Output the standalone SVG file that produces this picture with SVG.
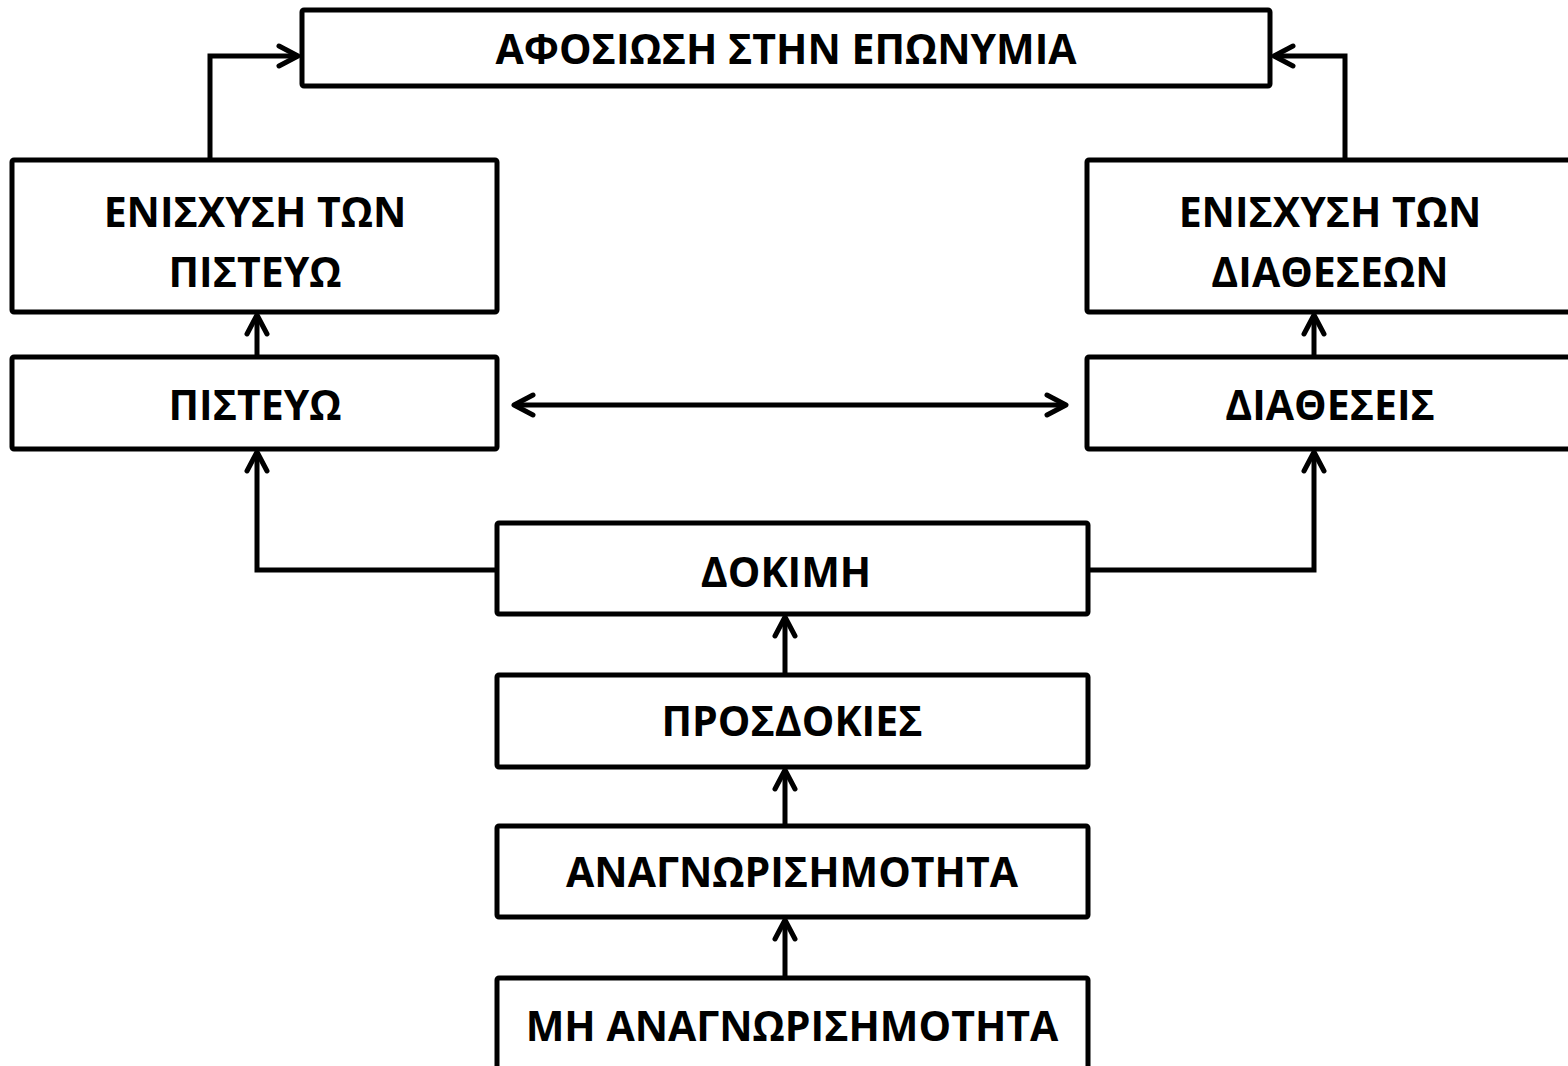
<svg xmlns="http://www.w3.org/2000/svg" width="1568" height="1066" viewBox="0 0 1568 1066">
<defs>
<style>
.box{fill:#fff;stroke:#000;stroke-width:5}
.lbl{font-family:"Open Sans","Noto Sans","Liberation Sans",sans-serif;font-weight:bold;font-size:41px;fill:#000;text-anchor:middle}
.con{fill:none;stroke:#000;stroke-width:5;stroke-linejoin:miter}
</style>
<marker id="ah" viewBox="-25 -15 30 30" refX="0" refY="0" markerWidth="30" markerHeight="30" markerUnits="userSpaceOnUse" orient="auto-start-reverse" overflow="visible">
<path d="M-19,-10 L0,0 L-19,10" fill="none" stroke="#000" stroke-width="5" stroke-linecap="round" stroke-linejoin="round"/>
</marker>
</defs>
<rect width="1568" height="1066" fill="#fff"/>
<g id="connectors">
<path class="con" d="M210,160 V56 H298" marker-end="url(#ah)"/>
<path class="con" d="M1345,160 V56 H1274" marker-end="url(#ah)"/>
<path class="con" d="M257,357 V315" marker-end="url(#ah)"/>
<path class="con" d="M1314,357 V315" marker-end="url(#ah)"/>
<path class="con" d="M514,405 H1066" marker-start="url(#ah)" marker-end="url(#ah)"/>
<path class="con" d="M497,570 H257 V452" marker-end="url(#ah)"/>
<path class="con" d="M1088,570 H1314 V452" marker-end="url(#ah)"/>
<path class="con" d="M785,675 V617" marker-end="url(#ah)"/>
<path class="con" d="M785,826 V770" marker-end="url(#ah)"/>
<path class="con" d="M785,978 V920" marker-end="url(#ah)"/>
</g>
<g id="n-afosiosi"><rect class="box" x="302" y="10" width="968" height="76" rx="2"/><text class="lbl" x="786" y="64">ΑΦΟΣΙΩΣΗ ΣΤΗΝ ΕΠΩΝΥΜΙΑ</text></g>
<g id="n-enisxysi-pisteyo"><rect class="box" x="12" y="160" width="485" height="152" rx="2"/><text class="lbl" x="255" y="227">ΕΝΙΣΧΥΣΗ ΤΩΝ</text><text class="lbl" x="255" y="287">ΠΙΣΤΕΥΩ</text></g>
<g id="n-enisxysi-diatheseon"><rect class="box" x="1087" y="160" width="486" height="152" rx="2"/><text class="lbl" x="1330" y="227">ΕΝΙΣΧΥΣΗ ΤΩΝ</text><text class="lbl" x="1330" y="287">ΔΙΑΘΕΣΕΩΝ</text></g>
<g id="n-pisteyo"><rect class="box" x="12" y="357" width="485" height="92" rx="2"/><text class="lbl" x="255" y="420">ΠΙΣΤΕΥΩ</text></g>
<g id="n-diatheseis"><rect class="box" x="1087" y="357" width="486" height="92" rx="2"/><text class="lbl" x="1330" y="420">ΔΙΑΘΕΣΕΙΣ</text></g>
<g id="n-dokimi"><rect class="box" x="497" y="523" width="591" height="91" rx="2"/><text class="lbl" x="786" y="587">ΔΟΚΙΜΗ</text></g>
<g id="n-prosdokies"><rect class="box" x="497" y="675" width="591" height="92" rx="2"/><text class="lbl" x="792" y="736">ΠΡΟΣΔΟΚΙΕΣ</text></g>
<g id="n-anagnorisimotita"><rect class="box" x="497" y="826" width="591" height="91" rx="2"/><text class="lbl" x="792" y="887">ΑΝΑΓΝΩΡΙΣΗΜΟΤΗΤΑ</text></g>
<g id="n-mi-anagnorisimotita"><rect class="box" x="497" y="978" width="591" height="100" rx="2"/><text class="lbl" x="792" y="1041">ΜΗ ΑΝΑΓΝΩΡΙΣΗΜΟΤΗΤΑ</text></g>
</svg>
